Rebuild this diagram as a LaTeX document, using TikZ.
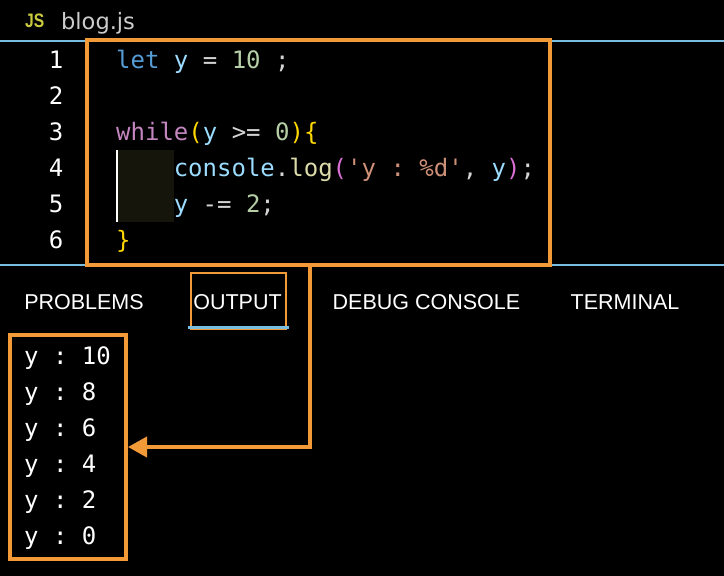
\documentclass[tikz,border=0pt]{standalone}
\usepackage{fontspec}
\setmainfont{Liberation Sans}
\setsansfont{Liberation Sans}
\setmonofont{DejaVu Sans Mono}
\newfontfamily\fnamefont{DejaVu Sans}
\usetikzlibrary{arrows.meta}
\definecolor{orng}{HTML}{F29A38}
\definecolor{bluln}{HTML}{79BDE0}
\definecolor{jsyel}{HTML}{CBCB41}
\definecolor{fgray}{HTML}{CCCCCC}
\definecolor{hkw}{HTML}{569CD6}
\definecolor{hvar}{HTML}{9CDCFE}
\definecolor{hnum}{HTML}{B5CEA8}
\definecolor{hctl}{HTML}{C586C0}
\definecolor{hgold}{HTML}{FFD700}
\definecolor{horch}{HTML}{DA70D6}
\definecolor{hfn}{HTML}{DCDCAA}
\definecolor{hstr}{HTML}{CE9178}
\definecolor{hop}{HTML}{D4D4D4}
\definecolor{indbg}{HTML}{16150B}
\newcommand\mycodefont{\ttfamily\fontsize{24}{28}\selectfont}
\newcommand\hlkw[1]{\textcolor{hkw}{#1}}
\newcommand\hlvar[1]{\textcolor{hvar}{#1}}
\newcommand\hlnum[1]{\textcolor{hnum}{#1}}
\newcommand\hlctl[1]{\textcolor{hctl}{#1}}
\newcommand\hlgold[1]{\textcolor{hgold}{#1}}
\newcommand\hlorch[1]{\textcolor{horch}{#1}}
\newcommand\hlfn[1]{\textcolor{hfn}{#1}}
\newcommand\hlstr[1]{\textcolor{hstr}{#1}}
\newcommand\hlop[1]{\textcolor{hop}{#1}}
\begin{document}
\begin{tikzpicture}[x=1pt,y=-1pt,
  codeline/.style={anchor=base west, inner sep=0pt, font=\mycodefont, text=hop},
  lnum/.style={anchor=base east, inner sep=0pt, font=\mycodefont, text=white},
  tabtxt/.style={anchor=base, inner sep=0pt, font=\sffamily\fontsize{21.5}{24}\selectfont, text=white},
  outline/.style={anchor=base west, inner sep=0pt, font=\mycodefont, text=white},
  hlbox/.style={draw=orng, line width=4pt, inner sep=0pt},
  conn/.style={draw=orng, line width=4pt, -{Triangle[length=19pt,width=20pt]}},
  sepline/.style={draw=bluln, line width=2.5pt}]
\fill[black] (0,0) rectangle (724,576);
\useasboundingbox (0,0) rectangle (724,576);

% header
\node[anchor=base west, inner sep=0pt, text=jsyel, font=\bfseries\fontsize{19.5}{20}\selectfont] (js) at (25,27) {\scalebox{0.8}[1]{JS}};
\node[anchor=base west, inner sep=0pt, text=fgray, font=\fnamefont\fontsize{22.5}{24}\selectfont] (fname) at (61,29) {blog.js};

% separator lines
\draw[sepline] (0,41) -- (724,41);
\draw[sepline] (0,265) -- (724,265);

% indent guide
\fill[indbg] (118,150) rectangle (174,222);
\draw[white, line width=2pt] (117,150) -- (117,222);

% line numbers
\node[lnum] (n1) at (63.5,68) {1};
\node[lnum] (n2) at (63.5,104) {2};
\node[lnum] (n3) at (63.5,140) {3};
\node[lnum] (n4) at (63.5,176) {4};
\node[lnum] (n5) at (63.5,212) {5};
\node[lnum] (n6) at (63.5,248) {6};

% code
\node[codeline] (l1) at (116,68) {\hlkw{let} \hlvar{y} \hlop{=} \hlnum{10} \hlop{;}};
\node[codeline] (l3) at (116,140) {\hlctl{while}\hlgold{(}\hlvar{y} \hlop{>=} \hlnum{0}\hlgold{)}\hlgold{\{}};
\node[codeline] (l4) at (173.6,176) {\hlvar{console}\hlop{.}\hlfn{log}\hlorch{(}\hlstr{'y : \%d'}\hlop{,} \hlvar{y}\hlorch{)}\hlop{;}};
\node[codeline] (l5) at (173.6,212) {\hlvar{y} \hlop{-=} \hlnum{2}\hlop{;}};
\node[codeline] (l6) at (116,248) {\hlgold{\}}};

% code highlight box
\node[hlbox, minimum width=462.7pt, minimum height=225pt] (codebox) at (318.65,152.5) {};

% tabs
\node[tabtxt] (tprob) at (84,309) {PROBLEMS};
\node[tabtxt] (tout) at (237.5,309) {OUTPUT};
\node[tabtxt] (tdbg) at (426.5,309) {DEBUG CONSOLE};
\node[tabtxt] (tterm) at (625,309) {TERMINAL};
\node[draw=orng, line width=2pt, minimum width=95pt, minimum height=56.5pt, inner sep=0pt] (outtab) at (238,301) {};
\draw[draw=bluln, line width=2.5pt] ([xshift=-2pt,yshift=3pt]outtab.south west) -- ([xshift=2pt,yshift=3pt]outtab.south east);

% output
\node[outline] (o1) at (24,364) {y : 10};
\node[outline] (o2) at (24,400) {y : 8};
\node[outline] (o3) at (24,436) {y : 6};
\node[outline] (o4) at (24,472) {y : 4};
\node[outline] (o5) at (24,508) {y : 2};
\node[outline] (o6) at (24,544) {y : 0};
\node[hlbox, minimum width=116.5pt, minimum height=224pt] (outbox) at (67.75,447) {};

% connector
\coordinate (cstart) at (310,265);
\draw[conn] (cstart) |- (outbox.east);
\end{tikzpicture}
\end{document}
